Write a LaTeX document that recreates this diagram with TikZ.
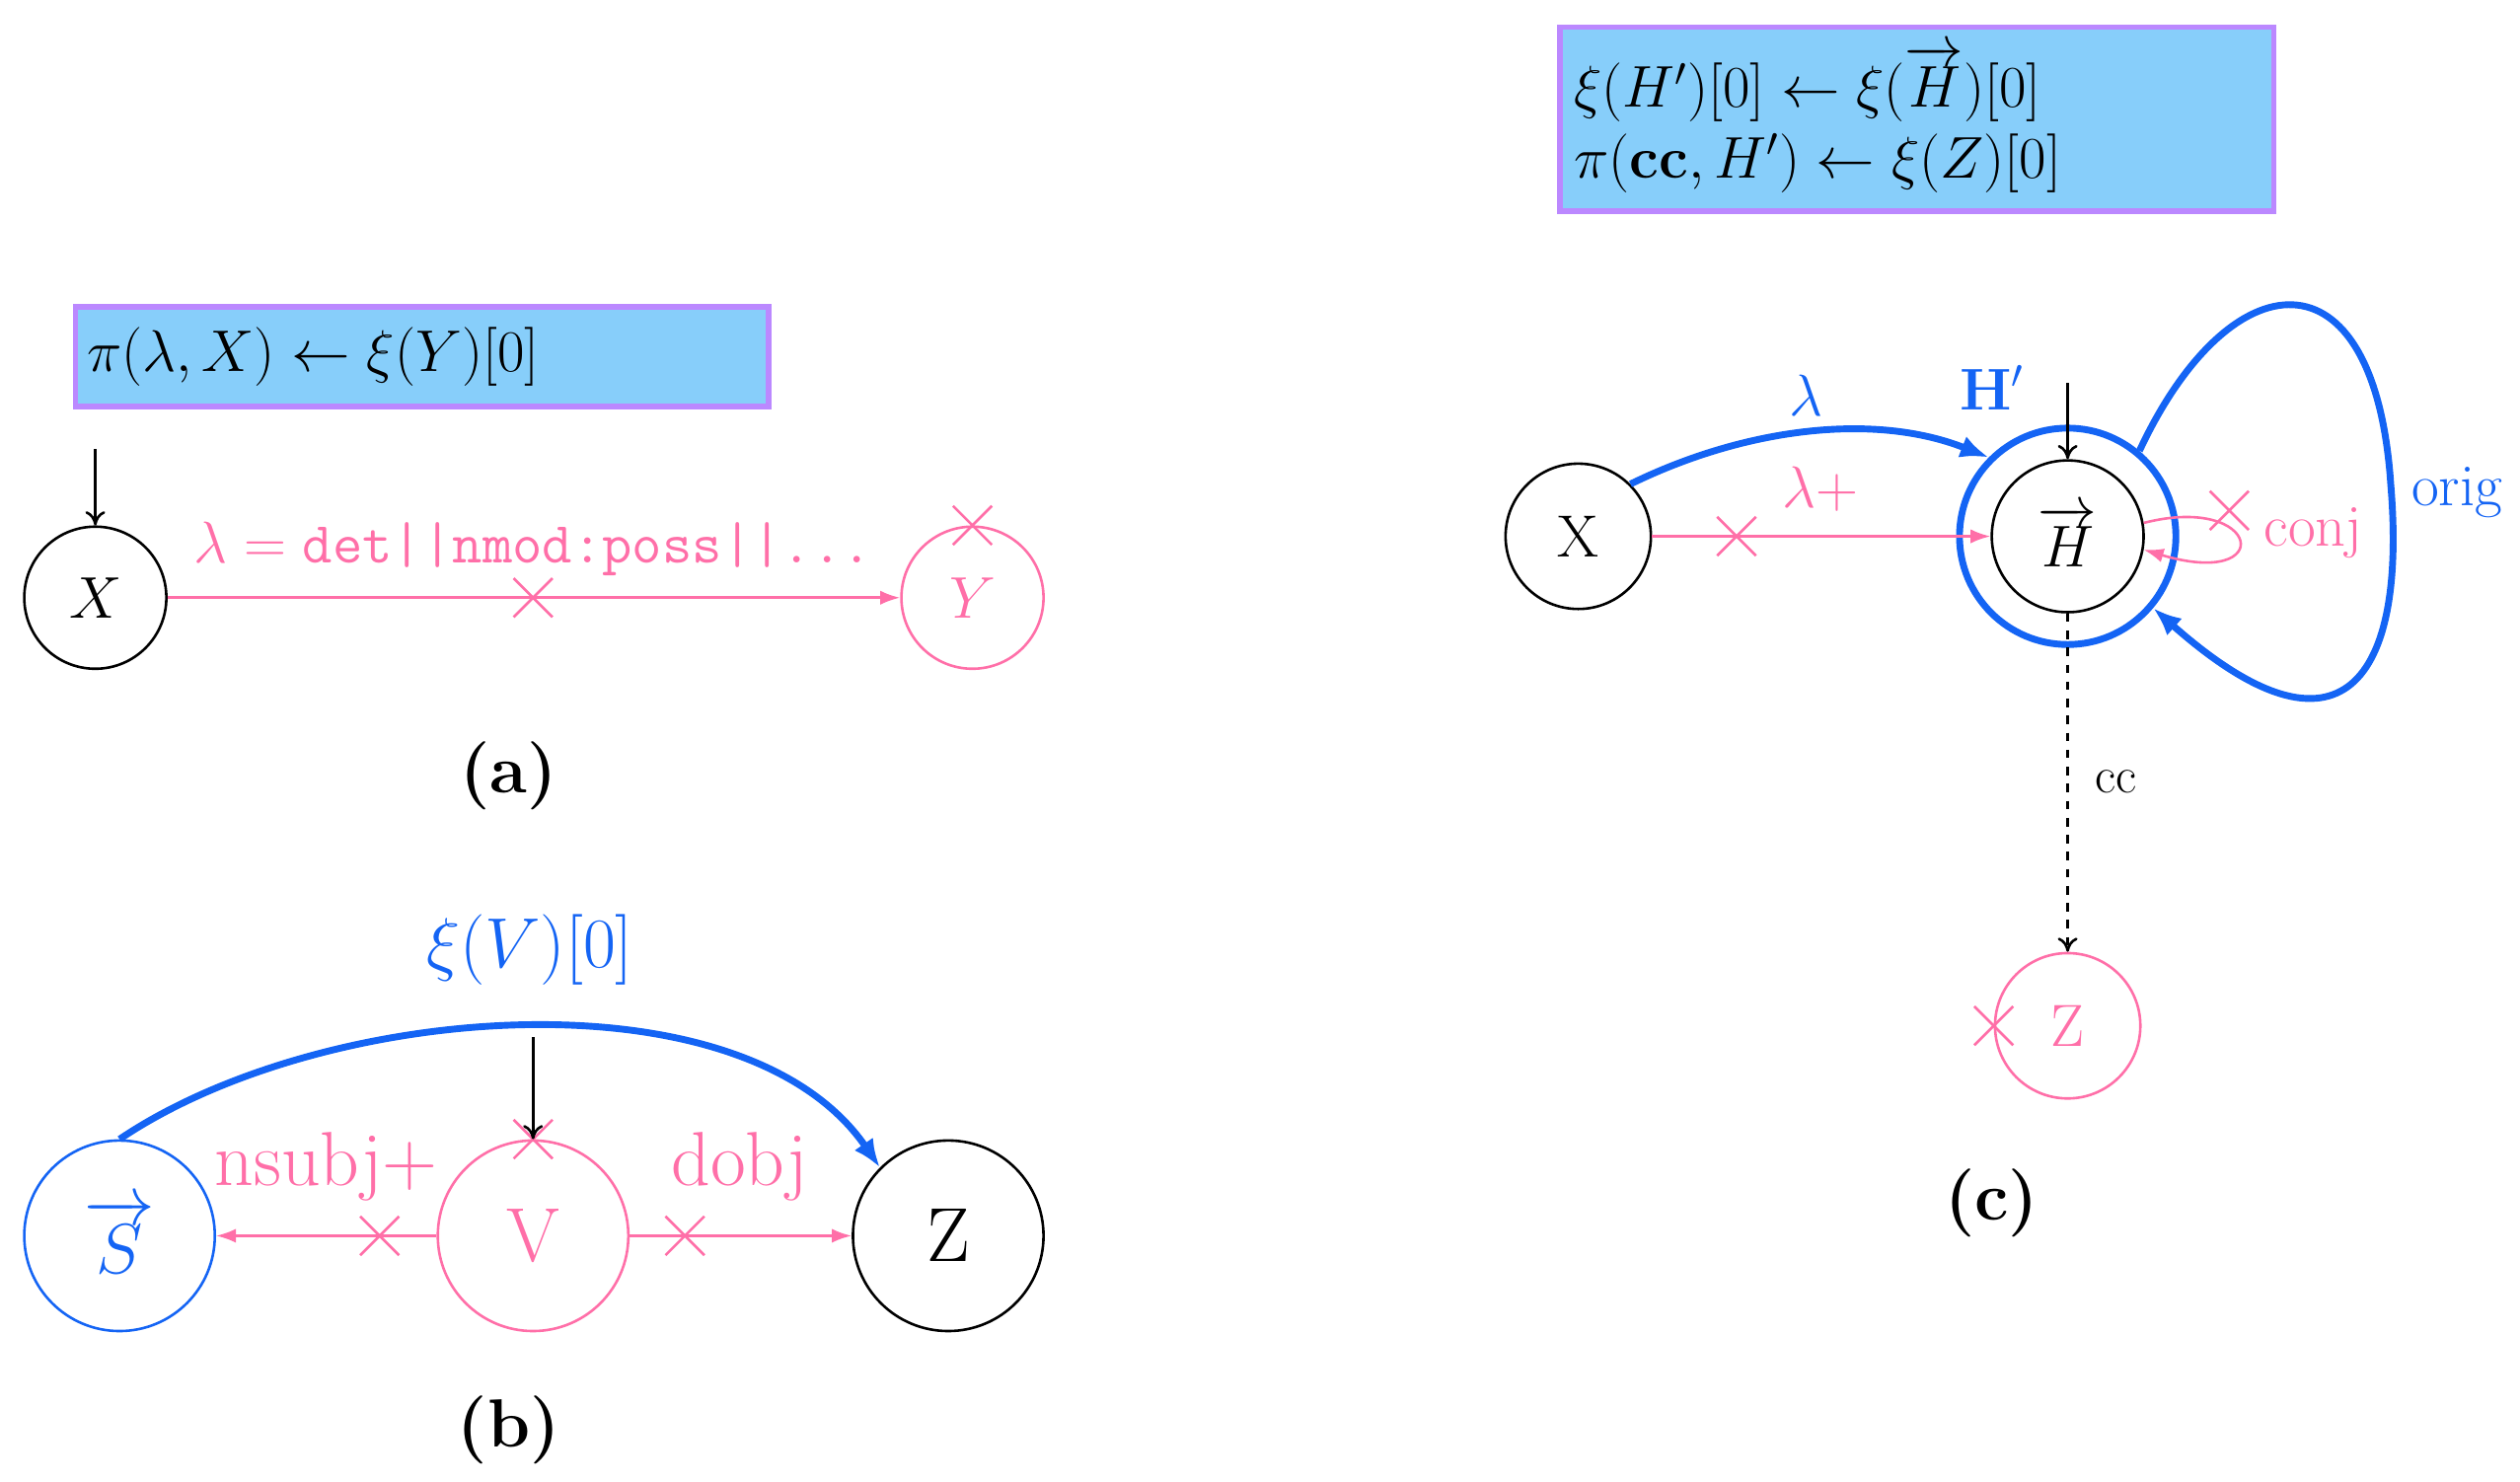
\documentclass[tikz,border=0pt]{standalone}
\usepackage{amsmath,amssymb}
\usetikzlibrary{arrows.meta,shapes.misc}
\definecolor{pk}{HTML}{FF6FA8}
\definecolor{bl}{HTML}{1464F4}
\definecolor{bxf}{HTML}{87CEFA}
\definecolor{bxd}{HTML}{BB88FF}
\begin{document}
\begin{tikzpicture}[x=0.02cm,y=-0.02cm,
  fs/.style={font=\fontsize{21}{25}\selectfont},
  bigf/.style={font=\fontsize{27}{32}\selectfont},
  blk/.style={circle,draw=black,line width=0.9pt,fs},
  pkc/.style={circle,draw=pk,text=pk,line width=0.9pt,fs},
  blc/.style={circle,draw=bl,text=bl,line width=0.9pt,fs},
  xmark/.style={cross out,draw=pk,line width=0.9pt,minimum size=0.45cm,inner sep=0pt},
  pkarr/.style={draw=pk,line width=0.9pt,-{Latex[length=7pt,width=5pt]}},
  blarr/.style={draw=bl,line width=2.4pt,-{Latex[length=10pt,width=8pt]}},
  karr/.style={draw=black,line width=0.9pt,-{To[length=5pt,width=7pt]}},
  bx/.style={draw=bxd,fill=bxf,line width=2pt,anchor=north west,inner sep=4pt,fs,align=left},
  captxt/.style={font=\fontsize{24}{28}\selectfont\bfseries}]
\useasboundingbox (0,0) rectangle (1560,917);
% panel a
\node[bx,minimum width=8.58cm,minimum height=1.24cm,text width=8.3cm] (ba) at (45,188) {$\pi(\lambda,X)\leftarrow\xi(Y)[0]$};
\node[blk,minimum size=1.76cm] (ax) at (59,370) {$X$};
\node[pkc,minimum size=1.76cm] (ay) at (602,370) {$Y$};
\node[xmark] (ayx) at (ay.north) {};
\coordinate (atop) at (59,278);
\draw[karr] (atop) -- (ax.north);
\draw[pkarr] (ax) -- (ay);
\node[xmark] (axm) at (330,370) {};
\node[text=pk,font=\fontsize{20.5}{24}\selectfont] (al) at (330,340) {$\lambda=\texttt{det||nmod:poss||...}$};
\node[captxt] (ca) at (315,480) {(a)};
% panel b
\node[blc,minimum size=2.36cm,bigf] (bs) at (74,765) {$\overrightarrow{S}$};
\node[pkc,minimum size=2.36cm,bigf] (bv) at (330,765) {V};
\node[blk,minimum size=2.36cm,bigf] (bz) at (587,765) {Z};
\node[xmark] (bvx) at (bv.north) {};
\coordinate (btop) at (330,642);
\draw[karr] (btop) -- (bv.north);
\draw[pkarr] (bv) -- (bs);
\draw[pkarr] (bv) -- (bz);
\node[xmark] (bx1) at (235,765) {};
\node[xmark] (bx2) at (424,765) {};
\node[text=pk,font=\fontsize{27}{32}\selectfont] (l1) at (202,722) {nsubj+};
\node[text=pk,font=\fontsize{27}{32}\selectfont] (l2) at (458,722) {dobj};
\draw[blarr] (bs.north) .. controls (200,620) and (460,600) .. (bz.north west);
\node[text=bl,font=\fontsize{29}{33}\selectfont] (l3) at (328,588) {$\xi(V)[0]$};
\node[captxt] (cb) at (315,885) {(b)};
% panel c
\node[bx,minimum width=8.84cm,minimum height=2.28cm,text width=8.5cm] (bc) at (964,15) {$\xi(H')[0]\leftarrow\xi(\overrightarrow{H})[0]$\\$\pi(\mathbf{cc},H')\leftarrow\xi(Z)[0]$};
\node[blk,minimum size=1.8cm] (cx) at (977,332) {X};
\node[blk,minimum size=1.88cm] (ch) at (1280,332) {$\overrightarrow{H}$};
\node[circle,draw=bl,line width=2.4pt,minimum size=2.68cm] (chh) at (1280,332) {};
\node[pkc,minimum size=1.8cm] (cz) at (1280,635) {Z};
\node[xmark] (czx) at (cz.west) {};
\node[text=bl,font=\fontsize{21}{25}\selectfont] (hl) at (1233,240) {$\mathbf{H'}$};
\coordinate (ctop) at (1280,237);
\draw[karr] (ctop) -- (ch.north);
\draw[blarr] (cx.north east) .. controls (1080,265) and (1160,255) .. (chh.north west);
\node[text=bl,font=\fontsize{21}{25}\selectfont] (ll) at (1118,245) {$\lambda$};
\draw[pkarr] (cx) -- (ch);
\node[xmark] (cxm) at (1075,332) {};
\node[text=pk,font=\fontsize{21}{25}\selectfont] (lp) at (1127,303) {$\lambda+$};
\draw[pkarr] (ch.10) .. controls (1400,305) and (1410,365) .. (ch.-10);
\node[xmark] (cx2) at (1380,316) {};
\node[text=pk,font=\fontsize{21}{25}\selectfont] (lc) at (1432,330) {conj};
\draw[blarr] (chh.50) .. controls (1380,160) and (1470,150) .. (1480,300) .. controls (1490,420) and (1450,480) .. (chh.-40);
\node[text=bl,font=\fontsize{21}{25}\selectfont] (lo) at (1521,305) {orig};
\draw[karr,dashed] (ch.south) -- (cz.north);
\node[font=\fontsize{18}{22}\selectfont] (lcc) at (1310,484) {cc};
\node[captxt] (cc) at (1233,745) {(c)};
\end{tikzpicture}
\end{document}
